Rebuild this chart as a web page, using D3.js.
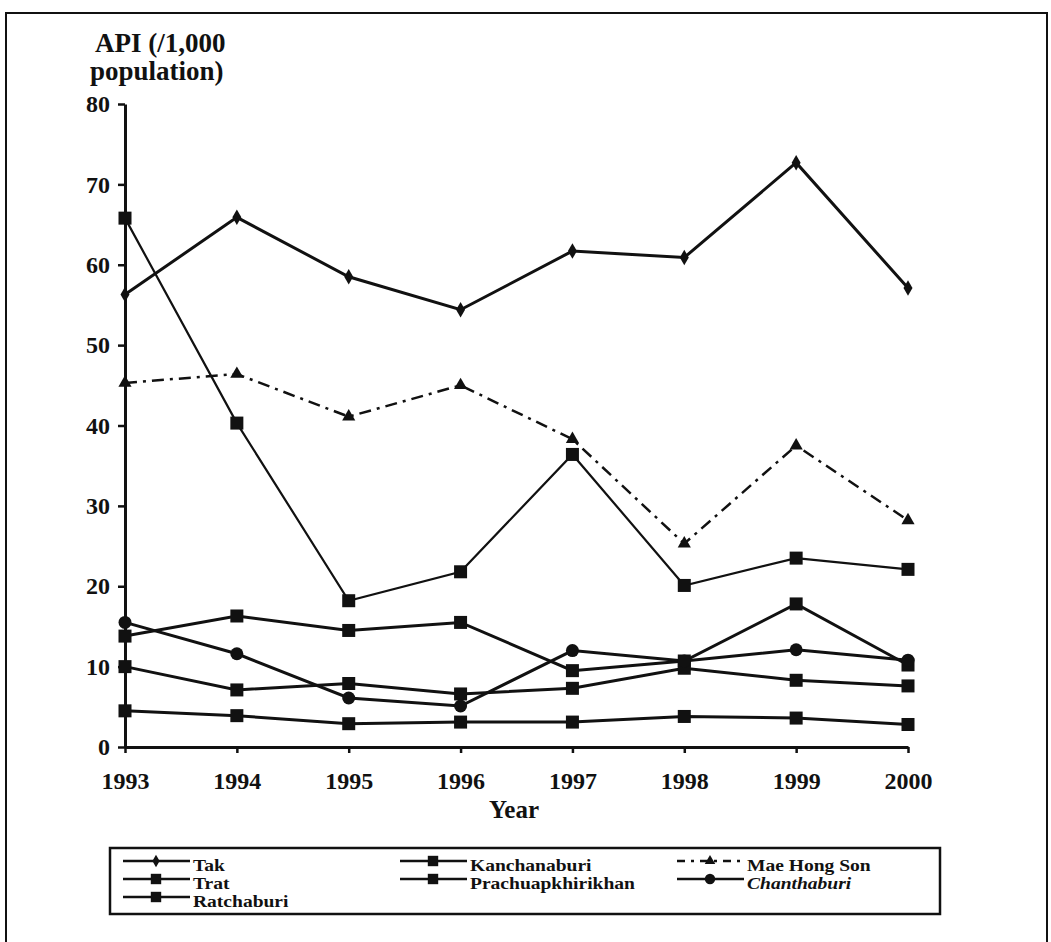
<!DOCTYPE html>
<html>
<head>
<meta charset="utf-8">
<script src="https://cdn.jsdelivr.net/npm/d3@7"></script>
<style>
  body { margin: 0; background: #fff; }
  svg { display: block; }
  text { font-family: "Liberation Serif", "Times New Roman", serif; font-weight: bold; fill: #111; }
</style>
</head>
<body>
<svg id="chart"></svg>
<script>
// data
var years = [1993, 1994, 1995, 1996, 1997, 1998, 1999, 2000];
var yTicks = [0, 10, 20, 30, 40, 50, 60, 70, 80];
var tak         = [56.3, 65.9, 58.5, 54.4, 61.7, 60.9, 72.7, 57.1];
var kanchanaburi = [13.8, 16.3, 14.5, 15.5, 9.5, 10.7, 17.8, 10.2];
var maeHongSon  = [45.3, 46.4, 41.1, 45.0, 38.3, 25.3, 37.5, 28.2];
var trat        = [65.8, 40.3, 18.2, 21.8, 36.4, 20.1, 23.5, 22.1];
var prachuap    = [10.0, 7.1, 7.9, 6.6, 7.3, 9.8, 8.3, 7.6];
var chanthaburi = [15.5, 11.6, 6.1, 5.1, 12.0, 10.7, 12.1, 10.8];
var ratchaburi  = [4.5, 3.9, 2.9, 3.1, 3.1, 3.8, 3.6, 2.8];

var series = [
  {name: "Tak", values: tak, marker: "diamond", dash: null, width: 3},
  {name: "Kanchanaburi", values: kanchanaburi, marker: "square", dash: null, width: 3},
  {name: "Mae Hong Son", values: maeHongSon, marker: "triangle", dash: "12,6,3,6", width: 2.5},
  {name: "Trat", values: trat, marker: "square", dash: null, width: 2.2},
  {name: "Prachuapkhirikhan", values: prachuap, marker: "square", dash: null, width: 3},
  {name: "Chanthaburi", values: chanthaburi, marker: "circle", dash: null, width: 3},
  {name: "Ratchaburi", values: ratchaburi, marker: "square", dash: null, width: 3}
];

var W = 1051, H = 942;
var svg = d3.select("#chart").attr("width", W).attr("height", H);

// outer frame
svg.append("rect")
  .attr("x", 6).attr("y", 13)
  .attr("width", 1041).attr("height", 960)
  .attr("fill", "none").attr("stroke", "#111").attr("stroke-width", 2);

var x = d3.scaleLinear().domain([1993, 2000]).range([125, 908]);
var y = d3.scaleLinear().domain([0, 80]).range([747, 104]);

// axes
var xAxis = svg.append("g")
  .attr("transform", "translate(0," + y(0) + ")")
  .call(d3.axisBottom(x).tickValues(years).tickFormat(d3.format("d"))
    .tickSize(6).tickSizeOuter(0).tickPadding(19));
var yAxis = svg.append("g")
  .attr("transform", "translate(" + x(1993) + ",0)")
  .call(d3.axisLeft(y).tickValues(yTicks).tickSize(7).tickSizeOuter(0).tickPadding(8));

[xAxis, yAxis].forEach(function (g) {
  g.select(".domain").attr("stroke", "#111").attr("stroke-width", 3);
  g.selectAll(".tick line").attr("stroke", "#111").attr("stroke-width", 2.5);
  g.selectAll(".tick text").style("font-size", "24px").attr("fill", "#111")
    .style("font-family", "'Liberation Serif', serif").style("font-weight", "bold");
});

// axis titles
svg.append("text").attr("x", 95).attr("y", 52).style("font-size", "27px").text("API (/1,000");
svg.append("text").attr("x", 90).attr("y", 80).style("font-size", "27px").text("population)");
svg.append("text").attr("x", 514).attr("y", 818).attr("text-anchor", "middle")
  .style("font-size", "25px").text("Year");

// marker shapes
function drawMarker(g, type, cx, cy, s) {
  s = s || 1;
  if (type === "square") {
    g.append("rect").attr("x", cx - 6.5 * s).attr("y", cy - 6.5 * s)
      .attr("width", 13 * s).attr("height", 13 * s).attr("fill", "#111");
  } else if (type === "circle") {
    g.append("circle").attr("cx", cx).attr("cy", cy).attr("r", 6.5 * s).attr("fill", "#111");
  } else if (type === "diamond") {
    g.append("path").attr("transform", "translate(" + cx + "," + cy + ")")
      .attr("d", d3.symbol(d3.symbolDiamond, 70 * s * s)()).attr("fill", "#111");
  } else if (type === "triangle") {
    g.append("path").attr("transform", "translate(" + cx + "," + cy + ")")
      .attr("d", d3.symbol(d3.symbolTriangle, 75 * s * s)()).attr("fill", "#111");
  }
}

var line = d3.line()
  .x(function (d, i) { return x(years[i]); })
  .y(function (d) { return y(d); });

var plot = svg.append("g");
series.forEach(function (s) {
  plot.append("path")
    .datum(s.values)
    .attr("d", line)
    .attr("fill", "none")
    .attr("stroke", "#111")
    .attr("stroke-width", s.width)
    .attr("stroke-dasharray", s.dash);
  s.values.forEach(function (v, i) {
    drawMarker(plot, s.marker, x(years[i]), y(v));
  });
});

// legend
var legend = svg.append("g");
legend.append("rect")
  .attr("x", 110).attr("y", 848).attr("width", 830).attr("height", 66)
  .attr("fill", "#fff").attr("stroke", "#111").attr("stroke-width", 2.5);

var colX = [123, 400, 677];
var rowY = [861, 879, 897];
series.forEach(function (s, i) {
  var cx = colX[i % 3], cy = rowY[Math.floor(i / 3)];
  legend.append("line")
    .attr("x1", cx).attr("x2", cx + 67).attr("y1", cy).attr("y2", cy)
    .attr("stroke", "#111").attr("stroke-width", 2.5)
    .attr("stroke-dasharray", s.dash ? "8,6,3,6" : null);
  drawMarker(legend, s.marker, cx + 33, cy, 0.8);
  legend.append("text")
    .attr("transform", "translate(" + (cx + 70) + "," + (cy + 10) + ") scale(1.15,1)")
    .style("font-size", "17px")
    .style("font-style", s.name === "Chanthaburi" ? "italic" : "normal")
    .text(s.name);
});
</script>
</body>
</html>
